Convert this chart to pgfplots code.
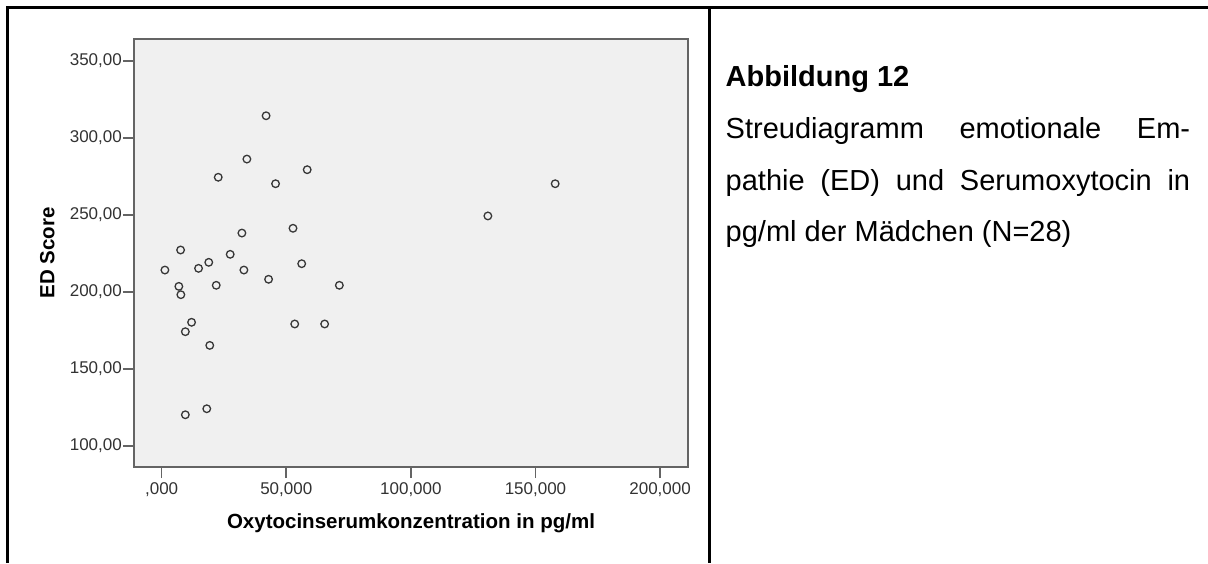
\documentclass[border=0pt]{standalone}
\usepackage{fontspec}
\setmainfont{Liberation Sans}
\usepackage{pgfplots}
\pgfplotsset{compat=1.18}

\definecolor{panelbg}{RGB}{240,240,240}
\definecolor{framegray}{RGB}{100,100,100}
\definecolor{markgray}{RGB}{55,55,55}
\definecolor{labelgray}{RGB}{50,50,50}

\begin{document}
\begin{tikzpicture}[x=1pt,y=1pt]
  \path[use as bounding box] (0,0) rectangle (1208,-563);

  % table rules around figure and caption
  \draw[line width=2.2pt, black] (7.5,-563) -- (7.5,-7.5) -- (1208,-7.5);
  \draw[line width=2.2pt, black] (709.5,-7.5) -- (709.5,-563);

  \begin{axis}[
    at={(134pt,-467pt)}, anchor=south west,
    width=554pt, height=428pt, scale only axis,
    xmin=-11.1, xmax=211.2, ymin=86.4, ymax=364.1,
    axis background/.style={fill=panelbg},
    axis line style={draw=framegray, line width=1.6pt},
    tick pos=left, tick align=outside,
    major tick length=11pt,
    tick style={draw=framegray, line width=1.6pt},
    xtick={0,50,100,150,200},
    xticklabels={{,000},{50,000},{100,000},{150,000},{200,000}},
    ytick={100,150,200,250,300,350},
    yticklabels={{100,00},{150,00},{200,00},{250,00},{300,00},{350,00}},
    ticklabel style={font=\fontsize{17}{20}\selectfont, text=labelgray},
    yticklabel style={inner sep=1pt},
    xticklabel style={inner sep=4pt},
    xlabel={Oxytocinserumkonzentration in pg/ml},
    ylabel={ED Score},
    label style={font=\fontsize{20.5}{24}\selectfont\bfseries, text=black},
    xlabel style={at={(axis description cs:0.5,-0.1425)}, anchor=base},
    ylabel style={at={(axis description cs:-0.1439,0.5)}, anchor=base},
  ]
    \addplot[only marks, mark=o, mark size=3.8pt,
             mark options={draw=markgray, line width=1.3pt}]
      coordinates {
        (41.9,314.3) (34.2,286.2) (22.7,274.4) (58.4,279.3)
        (45.7,270.2) (52.7,241.3) (32.2,238.2) (7.6,227.2)
        (27.5,224.4) (18.9,219.2) (14.8,215.3) (1.3,214.2)
        (33.0,214.2) (56.2,218.3) (42.9,208.2) (6.9,203.6)
        (21.9,204.3) (71.3,204.3) (7.7,198.2) (12.0,180.3)
        (9.5,174.2) (19.3,165.3) (53.4,179.2) (65.4,179.2)
        (18.1,124.2) (9.5,120.3) (157.9,270.2) (130.9,249.3)
      };
  \end{axis}

  % caption
  \node[anchor=base west, inner sep=0pt, font=\fontsize{29}{34}\selectfont\bfseries]
    at (725.5,-86.9) {Abbildung 12};
  \node[anchor=base west, inner sep=0pt, text width=464.5pt, align=justify,
        font=\fontsize{29}{51.5}\selectfont]
    at (725.5,-138.5)
    {Streudiagramm emotionale Em-\linebreak
     pathie (ED) und Serumoxytocin in\linebreak
     pg/ml der Mädchen (N=28)};
\end{tikzpicture}
\end{document}
